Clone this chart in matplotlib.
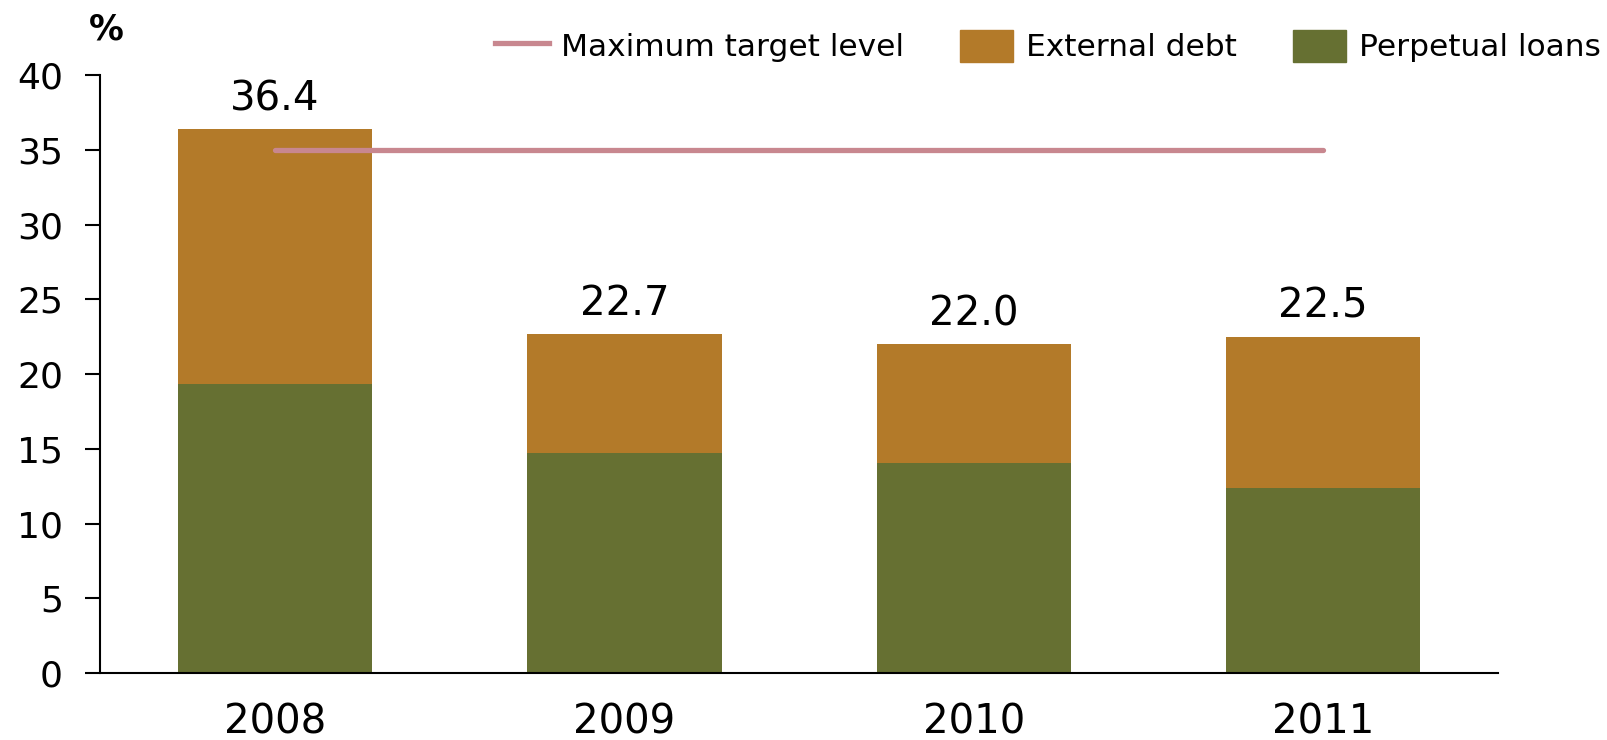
import matplotlib
matplotlib.use("Agg")
import matplotlib.pyplot as plt
from matplotlib.lines import Line2D
from matplotlib.patches import Patch
import numpy as np

# data
years = ["2008", "2009", "2010", "2011"]
perpetual_loans = [19.35, 14.7, 14.05, 12.35]
totals = [36.4, 22.7, 22.0, 22.5]
external_debt = [t - p for t, p in zip(totals, perpetual_loans)]
target_level = 35

C_EXT = "#B37A29"
C_PERP = "#667032"
C_TARGET = "#C8878F"

plt.rcParams["font.family"] = ["DejaVu Sans"]

fig = plt.figure(figsize=(16.08, 7.4), dpi=100)
ax = fig.add_axes([0.0625, 0.0905, 0.869, 0.808])

x = np.arange(len(years))
w = 0.556
ax.bar(x, perpetual_loans, w, color=C_PERP, zorder=2)
ax.bar(x, external_debt, w, bottom=perpetual_loans, color=C_EXT, zorder=2)
ax.plot([x[0], x[-1]], [target_level, target_level], color=C_TARGET,
        lw=3.8, solid_capstyle="round", zorder=3)

for xi, t in zip(x, totals):
    ax.annotate(f"{t:.1f}", (xi, t), xytext=(0, 7), textcoords="offset points",
                ha="center", va="bottom", fontsize=29)

ax.set_xlim(-0.5, 3.5)
ax.set_ylim(0, 40)
ax.set_yticks(range(0, 41, 5))
ax.set_xticks(x)
ax.set_xticklabels(years)
ax.tick_params(axis="y", labelsize=26, length=11, width=1.5, pad=16)
ax.tick_params(axis="x", labelsize=29, length=0, pad=21)
for s in ["top", "right"]:
    ax.spines[s].set_visible(False)
for s in ["left", "bottom"]:
    ax.spines[s].set_linewidth(1.5)

fig.text(0.066, 0.96, "%", ha="center", va="center", fontsize=25,
         fontweight="bold")

handles = [Line2D([], [], color=C_TARGET, lw=3.8),
           Patch(color=C_EXT), Patch(color=C_PERP)]
labels = ["Maximum target level", "External debt", "Perpetual loans"]
fig.legend(handles, labels, loc="upper right", bbox_to_anchor=(1.007, 0.985),
           ncol=3, frameon=False, fontsize=22.5, handlelength=1.7,
           handleheight=1.2, columnspacing=1.8, handletextpad=0.4,
           borderaxespad=0.2)

fig.savefig("out.png", dpi=100)
